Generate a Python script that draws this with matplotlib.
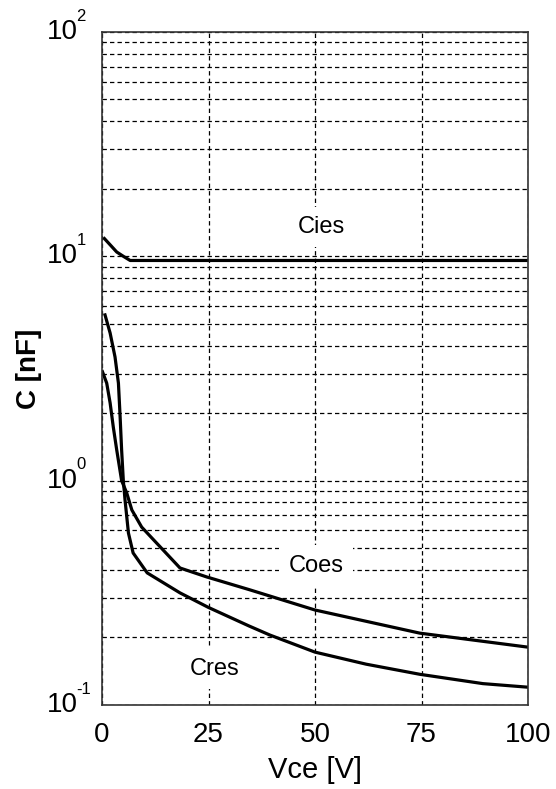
import numpy as np
import matplotlib
matplotlib.use("Agg")
import matplotlib.pyplot as plt
from matplotlib.ticker import LogLocator, NullFormatter
from matplotlib.transforms import offset_copy

plt.rcParams['font.family'] = ['Liberation Sans', 'DejaVu Sans']

# values (Vce in V, C in nF)
cies_v = [0.55, 2.0, 3.45, 5.0, 6.6, 100]
cies_c = [12.0, 11.2, 10.45, 10.0, 9.58, 9.58]

coes_v = [0.1, 1.1, 1.9, 2.65, 3.45, 4.6, 5.8, 7.0, 9.3, 11.7, 18.3, 24.6, 34.7, 50, 74.6, 100]
coes_c = [3.06, 2.72, 2.22, 1.73, 1.37, 1.0, 0.881, 0.740, 0.621, 0.555, 0.408, 0.372, 0.326, 0.265, 0.209, 0.181]

cres_v = [0.7, 1.9, 3.05, 3.85, 4.25, 4.6, 5.0, 5.4, 6.2, 7.3, 10.6, 18.3, 25.0, 34.5, 39.4, 50, 62, 74.6, 89.4, 100]
cres_c = [5.48, 4.55, 3.56, 2.72, 1.92, 1.37, 1.0, 0.82, 0.584, 0.476, 0.388, 0.316, 0.272, 0.225, 0.205, 0.172, 0.152, 0.137, 0.1245, 0.120]

labels = ["Cies", "Coes", "Cres"]
label_pos = [(51.6, 13.5), (50.2, 0.417), (26.5, 0.145)]

x_ticks = [0, 25, 50, 75, 100]
y_decades = [-1, 0, 1, 2]

fig = plt.figure(figsize=(5.56, 7.89), dpi=100)
ax = fig.add_axes([0.1835, 0.1065, 0.7662, 0.853])

for v, c in [(cies_v, cies_c), (coes_v, coes_c), (cres_v, cres_c)]:
    ax.plot(v, c, color='black', lw=2.3, solid_joinstyle='round', zorder=2)

ax.set_yscale('log')
ax.set_xlim(0, 100)
ax.set_ylim(0.1, 100)
ax.set_xticks(x_ticks)
ax.set_xticklabels([str(t) for t in x_ticks], fontsize=20)
ax.yaxis.set_minor_locator(LogLocator(base=10, subs=np.arange(2, 10), numticks=20))
ax.yaxis.set_minor_formatter(NullFormatter())
ax.set_yticks([10.0 ** d for d in y_decades])
ax.set_yticklabels([])
ax.tick_params(which='both', length=0)
ax.tick_params(axis='x', pad=12)

grid_style = dict(color='black', lw=0.9, linestyle=(0, (3.5, 2.5)))
ax.grid(axis='y', which='both', **grid_style)
ax.grid(axis='x', which='major', **grid_style)

for s in ax.spines.values():
    s.set_color('#333333')
    s.set_linewidth(1.2)

# y tick labels drawn as "10" plus a small exponent
ytrans = ax.get_yaxis_transform()
et = offset_copy(ytrans, fig=fig, x=0, y=6, units='points')
for d in y_decades:
    ax.text(-0.056, 10.0 ** d, "10", transform=ytrans, ha='right', va='center',
            fontsize=20)
    ax.text(-0.060, 10.0 ** d, str(d), transform=et, ha='left', va='bottom',
            fontsize=12)

for lab, (lx, ly) in zip(labels, label_pos):
    ax.text(lx, ly, lab, fontsize=17, ha='center', va='center', zorder=3,
            bbox=dict(boxstyle='square,pad=0.4', fc='white', ec='none'))

ax.set_xlabel("Vce [V]", fontsize=21, labelpad=6)
ax.set_ylabel("C [nF]", fontsize=20, fontweight='bold', labelpad=40)

fig.savefig("out.png", dpi=100)
